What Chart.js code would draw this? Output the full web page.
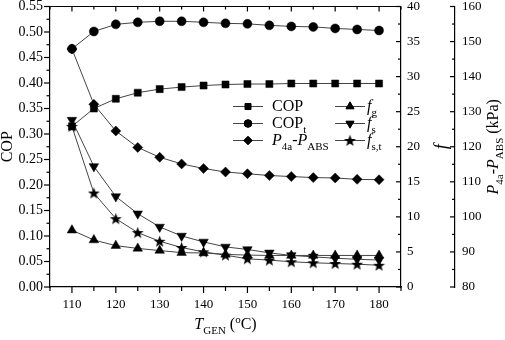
<!DOCTYPE html>
<html>
<head>
<meta charset="utf-8">
<script src="https://cdn.jsdelivr.net/npm/chart.js@4/dist/chart.umd.min.js"></script>
<style>
  body { margin: 0; background: #fff; }
  #wrap { width: 505px; height: 340px; position: relative; }
</style>
</head>
<body>
<div id="wrap"><canvas id="chart_cop"></canvas></div>
<script>
// generator temperature (degC)
var temps = [110, 115, 120, 125, 130, 135, 140, 145, 150, 155, 160, 165, 170, 175, 180];

// left axis: COP
var cop  = [0.315, 0.350, 0.369, 0.381, 0.388, 0.392, 0.395, 0.397, 0.398, 0.398, 0.399, 0.399, 0.399, 0.399, 0.399];
var copT = [0.467, 0.501, 0.515, 0.519, 0.521, 0.521, 0.519, 0.517, 0.516, 0.513, 0.511, 0.510, 0.507, 0.505, 0.503];

// far right axis: P4a - PABS (kPa)
var pDiff = [147.9, 132.1, 124.5, 119.8, 117.0, 115.1, 113.8, 112.8, 112.3, 111.8, 111.5, 111.2, 111.1, 110.7, 110.6];

// right axis: f
var fg  = [8.1, 6.7, 5.9, 5.5, 5.2, 4.9, 4.85, 4.65, 4.55, 4.5, 4.5, 4.5, 4.5, 4.5, 4.5];
var fs  = [23.8, 17.2, 12.9, 10.45, 8.56, 7.28, 6.43, 5.72, 5.35, 4.87, 4.5, 4.3, 4.1, 3.95, 3.85];
var fst = [22.9, 13.4, 9.74, 7.76, 6.52, 5.63, 5.01, 4.54, 4.02, 3.83, 3.6, 3.45, 3.35, 3.25, 3.1];

// tick labels
var xTicks = [110, 120, 130, 140, 150, 160, 170, 180];
var copTicks = [0, 0.05, 0.10, 0.15, 0.20, 0.25, 0.30, 0.35, 0.40, 0.45, 0.50, 0.55];
var fTicks = [0, 5, 10, 15, 20, 25, 30, 35, 40];
var pTicks = [80, 90, 100, 110, 120, 130, 140, 150, 160];

var FONT = "'Liberation Serif', serif";
var LINE = '#444';

// filled five point star used as a marker
function makeStar() {
    var c = document.createElement('canvas');
    c.width = 13; c.height = 13;
    var g = c.getContext('2d');
    g.fillStyle = '#000';
    g.beginPath();
    for (var i = 0; i < 10; i++) {
        var r = i % 2 === 0 ? 6.2 : 2.6;
        var a = -Math.PI / 2 + i * Math.PI / 5;
        var px = 6.5 + r * Math.cos(a), py = 7 + r * Math.sin(a);
        if (i === 0) g.moveTo(px, py); else g.lineTo(px, py);
    }
    g.closePath();
    g.fill();
    return c;
}
var starImg = makeStar();

function pts(vals) {
    return temps.map(function (t, i) { return { x: t, y: vals[i] }; });
}

function series(label, vals, axis, style, radius, rot) {
    return {
        label: label,
        data: pts(vals),
        yAxisID: axis,
        borderColor: LINE,
        borderWidth: 1,
        backgroundColor: '#000',
        pointBackgroundColor: '#000',
        pointBorderColor: '#000',
        pointBorderWidth: 0.5,
        pointStyle: style,
        pointRadius: radius,
        pointRotation: rot || 0,
        tension: 0
    };
}

var datasets = [
    series('COP', cop, 'y', 'rect', 5),
    series('COPt', copT, 'y', 'circle', 4.5),
    series('P', pDiff, 'yp', 'rectRot', 5),
    series('fg', fg, 'yf', 'triangle', 5.5),
    series('fs', fs, 'yf', 'triangle', 5.5, 180),
    series('fst', fst, 'yf', starImg, 6)
];

function setTicks(vals) {
    return function (scale) {
        scale.ticks = vals.map(function (v) { return { value: v }; });
    };
}
// fixed axis size, no extra edge padding for labels
function fixSize(w, h) {
    return function (s) {
        if (w) s.width = w;
        if (h) s.height = h;
        s.paddingTop = 0; s.paddingBottom = 0;
        s.paddingLeft = 0; s.paddingRight = 0;
    };
}

// text with sub/superscripts: parts = [[text, kind], ...]
function fontFor(kind, size) {
    if (kind === 'i') return 'italic ' + size + 'px ' + FONT;
    if (kind === 'sub' || kind === 'sup') return Math.round(size * 0.66) + 'px ' + FONT;
    return size + 'px ' + FONT;
}
function richWidth(ctx, parts, size) {
    var w = 0;
    parts.forEach(function (p) {
        ctx.font = fontFor(p[1], size);
        w += ctx.measureText(p[0]).width;
    });
    return w;
}
function drawRich(ctx, parts, x, y, size) {
    ctx.textBaseline = 'middle';
    ctx.textAlign = 'left';
    parts.forEach(function (p) {
        ctx.font = fontFor(p[1], size);
        var dy = 0;
        if (p[1] === 'sub') dy = size * 0.4;
        if (p[1] === 'sup') dy = -size * 0.3;
        ctx.fillText(p[0], x, y + dy);
        x += ctx.measureText(p[0]).width;
    });
}

var decorPlugin = {
    id: 'decor',
    afterDraw: function (chart) {
        var ctx = chart.ctx;
        var a = chart.chartArea;
        var sx = chart.scales.x, sy = chart.scales.y, sf = chart.scales.yf, sp = chart.scales.yp;
        ctx.save();
        ctx.strokeStyle = '#000';
        ctx.fillStyle = '#000';
        ctx.lineWidth = 1.2;

        // top frame line
        ctx.beginPath();
        ctx.moveTo(a.left, a.top);
        ctx.lineTo(a.right, a.top);
        ctx.stroke();

        function hTicks(scale, min, max, step, len, y, dir) {
            for (var v = min; v <= max + 1e-9; v += step) {
                var px = scale.getPixelForValue(v);
                ctx.beginPath();
                ctx.moveTo(px, y);
                ctx.lineTo(px, y + dir * len);
                ctx.stroke();
            }
        }
        function vTicks(scale, min, max, step, len, x, dir) {
            for (var v = min; v <= max + 1e-9; v += step) {
                var py = scale.getPixelForValue(v);
                ctx.beginPath();
                ctx.moveTo(x, py);
                ctx.lineTo(x + dir * len, py);
                ctx.stroke();
            }
        }
        // bottom and top x ticks
        hTicks(sx, 110, 180, 10, 6, a.bottom, 1);
        hTicks(sx, 105, 185, 10, 4, a.bottom, 1);
        hTicks(sx, 110, 180, 10, 5, a.top, 1);
        hTicks(sx, 105, 185, 10, 3, a.top, 1);
        // left COP axis, outward
        vTicks(sy, 0, 0.55, 0.05, 6, a.left, -1);
        vTicks(sy, 0.025, 0.525, 0.05, 3.5, a.left, -1);
        // f axis, inward
        vTicks(sf, 0, 40, 5, 5, a.right, -1);
        vTicks(sf, 2.5, 37.5, 5, 3, a.right, -1);
        // pressure axis
        vTicks(sp, 80, 160, 10, 5, sp.left, -1);
        vTicks(sp, 85, 155, 10, 3, sp.left, -1);

        // axis titles
        var xt = [['T', 'i'], ['GEN', 'sub'], [' (', 'n'], ['o', 'sup'], ['C)', 'n']];
        var w = richWidth(ctx, xt, 16);
        drawRich(ctx, xt, (a.left + a.right) / 2 - w / 2, 325, 16);

        ctx.save();
        ctx.translate(8, (a.top + a.bottom) / 2);
        ctx.rotate(-Math.PI / 2);
        var yt = [['COP', 'n']];
        drawRich(ctx, yt, -richWidth(ctx, yt, 16) / 2, 0, 16);
        ctx.restore();

        ctx.save();
        ctx.translate(442, (a.top + a.bottom) / 2);
        ctx.rotate(-Math.PI / 2);
        var ft = [['f', 'i']];
        drawRich(ctx, ft, -richWidth(ctx, ft, 18) / 2, 0, 18);
        ctx.restore();

        ctx.save();
        ctx.translate(494, (a.top + a.bottom) / 2);
        ctx.rotate(-Math.PI / 2);
        var pt = [['P', 'i'], ['4a', 'sub'], ['-', 'n'], ['P', 'i'], ['ABS', 'sub'], [' (kPa)', 'n']];
        drawRich(ctx, pt, -richWidth(ctx, pt, 16) / 2, 0, 16);
        ctx.restore();

        // legend, two columns
        var rows = [106.5, 123.5, 140.5];
        var legend = [
            { ds: 0, x: 233, tx: 272, y: rows[0], text: [['COP', 'n']] },
            { ds: 1, x: 233, tx: 272, y: rows[1], text: [['COP', 'n'], ['t', 'sub']] },
            { ds: 2, x: 233, tx: 272, y: rows[2], text: [['P', 'i'], ['4a', 'sub'], ['-', 'n'], ['P', 'i'], ['ABS', 'sub']] },
            { ds: 3, x: 335, tx: 367, y: rows[0], text: [['f', 'i'], ['g', 'sub']] },
            { ds: 4, x: 335, tx: 367, y: rows[1], text: [['f', 'i'], ['s', 'sub']] },
            { ds: 5, x: 335, tx: 367, y: rows[2], text: [['f', 'i'], ['s,t', 'sub']] }
        ];
        legend.forEach(function (it) {
            var d = chart.data.datasets[it.ds];
            var len = 30;
            ctx.strokeStyle = LINE;
            ctx.lineWidth = 1;
            ctx.beginPath();
            ctx.moveTo(it.x, it.y);
            ctx.lineTo(it.x + len, it.y);
            ctx.stroke();
            ctx.fillStyle = '#000';
            ctx.strokeStyle = '#000';
            Chart.helpers.drawPoint(ctx, {
                pointStyle: d.pointStyle,
                radius: d.pointRadius * 0.85,
                rotation: d.pointRotation,
                borderWidth: 0.5
            }, it.x + len / 2, it.y);
            ctx.fill();
            drawRich(ctx, it.text, it.tx, it.y, 16);
        });
        ctx.restore();
    }
};

var ChartCOP;
function mainCOP() {
    var ctxCOP = document.getElementById('chart_cop').getContext('2d');
    var gridOff = { display: false, drawTicks: false };
    ChartCOP = new Chart(ctxCOP, {
        type: 'line',
        data: { datasets: datasets },
        options: {
            responsive: true,
            maintainAspectRatio: false,
            animation: false,
            layout: { padding: { left: 0, right: 0, top: 5, bottom: 0 } },
            plugins: { legend: { display: false }, tooltip: { enabled: false } },
            scales: {
                x: {
                    type: 'linear', position: 'bottom', min: 105, max: 185,
                    afterBuildTicks: setTicks(xTicks),
                    afterFit: fixSize(0, 53),
                    grid: gridOff,
                    border: { display: true, color: '#000', width: 1.2 },
                    ticks: { color: '#000', padding: 10, maxRotation: 0, font: { family: FONT, size: 13 } }
                },
                y: {
                    type: 'linear', position: 'left', min: 0, max: 0.55,
                    afterBuildTicks: setTicks(copTicks),
                    afterFit: fixSize(50, 0),
                    grid: gridOff,
                    border: { display: true, color: '#000', width: 1.2 },
                    ticks: {
                        color: '#000', padding: 7, font: { family: FONT, size: 14 },
                        callback: function (v) { return v.toFixed(2); }
                    }
                },
                yf: {
                    type: 'linear', position: 'right', min: 0, max: 40,
                    afterBuildTicks: setTicks(fTicks),
                    afterFit: fixSize(54, 0),
                    grid: gridOff,
                    border: { display: true, color: '#000', width: 1.2 },
                    ticks: { color: '#000', padding: 6, font: { family: FONT, size: 13 } }
                },
                yp: {
                    type: 'linear', position: 'right', min: 80, max: 160,
                    afterBuildTicks: setTicks(pTicks),
                    afterFit: fixSize(50, 0),
                    grid: gridOff,
                    border: { display: true, color: '#000', width: 1.2 },
                    ticks: { color: '#000', padding: 7, font: { family: FONT, size: 13 } }
                }
            }
        },
        plugins: [decorPlugin]
    });
}

// make sure the serif font is ready before drawing on the canvas
Promise.all([
    document.fonts.load("13px 'Liberation Serif'"),
    document.fonts.load("italic 16px 'Liberation Serif'")
]).then(mainCOP, mainCOP);
</script>
</body>
</html>
